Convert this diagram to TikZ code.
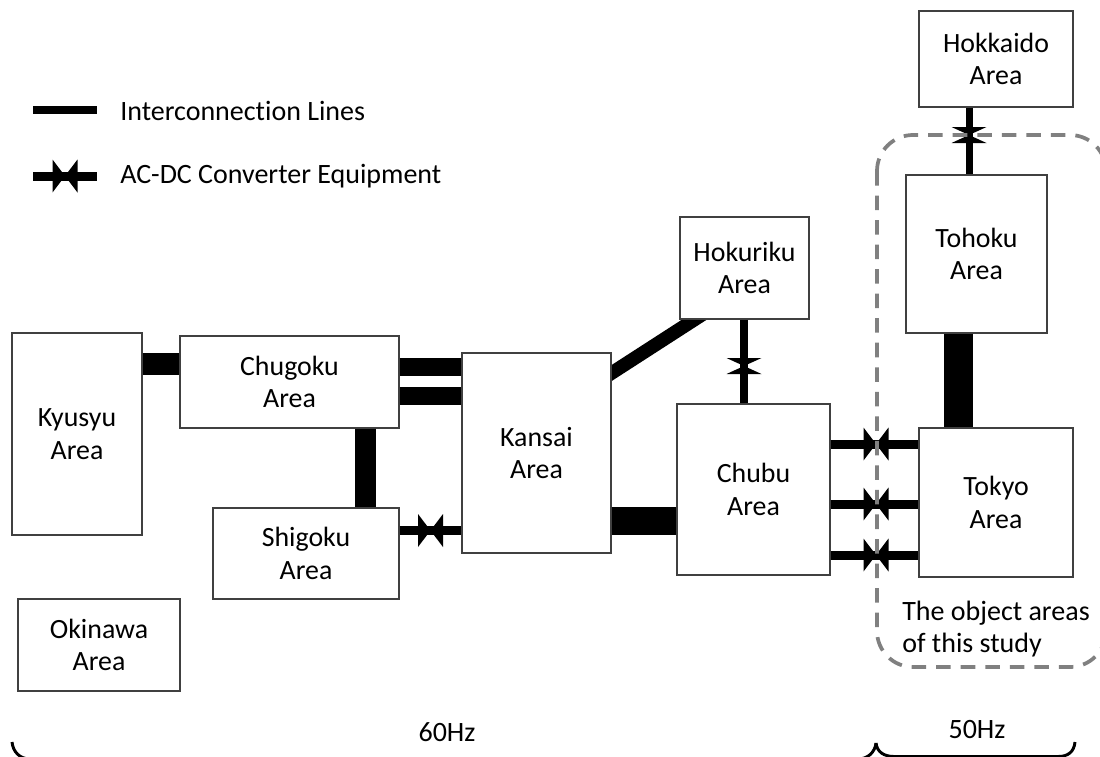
\documentclass[tikz,border=0pt]{standalone}
\usepackage{fontspec}
\setmainfont{Carlito}[Ligatures=NoCommon]
\usetikzlibrary{calc,backgrounds}

\tikzset{
  areabox/.style 2 args={draw=black!75, fill=white, line width=1pt, align=center,
    inner sep=0pt, font=\fontsize{20.9}{24.4}\selectfont,
    minimum width=#1*0.75pt, minimum height=#2*0.75pt},
  tielink/.style={line width=#1*0.75pt, draw=black},
  capt/.style={font=\fontsize{21}{24.4}\selectfont, inner sep=0pt, align=left},
  studyzone/.style={draw=black!50, line width=2.8pt, dash pattern=on 10.9pt off 7.5pt, rounded corners=27pt},
  bracket/.style={draw=black, line width=2.2pt}
}
% bow-tie mark of the converters
\newcommand{\hconv}[2]{\fill (#1-12.5,#2-16.5) -- (#1,#2) -- (#1+12.5,#2-16.5) -- (#1+12.5,#2+16.5) -- (#1,#2) -- (#1-12.5,#2+16.5) -- cycle;}
\newcommand{\vconv}[2]{\fill (#1-17.5,#2-8) -- (#1,#2) -- (#1-17.5,#2+8) -- (#1+17.5,#2+8) -- (#1,#2) -- (#1+17.5,#2-8) -- cycle;}

\begin{document}
\begin{tikzpicture}[x=0.75pt,y=-0.75pt]
  \useasboundingbox (0,0) rectangle (1100,757);

  % areas, placed first so that the lines can refer to them
  \node[areabox={154}{96}] (hokkaido) at (996,59) {Hokkaido\\Area};
  \node[areabox={141}{158}] (tohoku) at (976.5,254) {Tohoku\\Area};
  \node[areabox={129}{102}] (hokuriku) at (744.5,268) {Hokuriku\\Area};
  \node[areabox={130}{202}] (kyusyu) at (77,434) {Kyusyu\\Area};
  \node[areabox={219}{92}] (chugoku) at (289.5,382) {Chugoku\\Area};
  \node[areabox={149}{200}] (kansai) at (536.5,453) {Kansai\\Area};
  \node[areabox={153}{171}] (chubu) at (753.5,489.5) {Chubu\\Area};
  \node[areabox={154}{149}] (tokyo) at (996,502.5) {Tokyo\\Area};
  \node[areabox={186}{91}] (shigoku) at (306,553.5) {Shigoku\\Area};
  \node[areabox={162}{92}] (okinawa) at (99,645) {Okinawa\\Area};

  % interconnection lines
  \draw[tielink=22] (kyusyu.east |- 0,364) -- (chugoku.west |- 0,364);
  \draw[tielink=18] (chugoku.east |- 0,367) -- (kansai.west |- 0,367);
  \draw[tielink=18] (chugoku.east |- 0,396) -- (kansai.west |- 0,396);
  \draw[tielink=21] (chugoku.south -| 365.5,0) -- (shigoku.north -| 365.5,0);
  \draw[tielink=9] (shigoku.east |- 0,530.5) -- (kansai.west |- 0,530.5);
  \draw[tielink=28] (kansai.east |- 0,521) -- (chubu.west |- 0,521);
  \begin{scope}[on background layer]
    % runs on under both boxes
    \draw[tielink=13.5, shorten <=-10pt, shorten >=-10pt] (kansai.east |- 0,373) -- ($(hokuriku.south west)+(15,0)$);
  \end{scope}
  \draw[tielink=8] (hokuriku.south -| 744,0) -- (chubu.north -| 744,0);
  \draw[tielink=9] (chubu.east |- 0,444) -- (tokyo.west |- 0,444);
  \draw[tielink=9] (chubu.east |- 0,504) -- (tokyo.west |- 0,504);
  \draw[tielink=9] (chubu.east |- 0,555) -- (tokyo.west |- 0,555);
  \draw[tielink=29] (tohoku.south -| 958.5,0) -- (tokyo.north -| 958.5,0);
  \draw[tielink=7] (hokkaido.south -| 969,0) -- (tohoku.north -| 969,0);

  % converters
  \hconv{430.5}{530.5}
  \hconv{876}{444}
  \hconv{876}{504}
  \hconv{876}{555}
  \vconv{744}{366}
  \vconv{969}{135}

  % legend
  \coordinate (keyA) at (33,110);
  \coordinate (keyB) at (97,110);
  \coordinate (keyC) at (33,176);
  \coordinate (keyD) at (97,176);
  \draw[tielink=8] (keyA) -- (keyB);
  \draw[tielink=9] (keyC) -- (keyD);
  \hconv{65}{176}
  \node[capt, anchor=west] (keytie) at (120,111) {Interconnection Lines};
  \node[capt, anchor=west] (keyconv) at (120,176) {AC-DC Converter Equipment};

  % study region and frequency brackets
  \draw[studyzone] (877,135) rectangle (1106,667);
  \node[capt] (object) at (996,629) {The object areas\\of this study};
  \node[capt] (hz60) at (447,732) {60Hz};
  \node[capt] (hz50) at (977,730) {50Hz};
  \draw[bracket] (12,742) .. controls (13,752) and (20,759) .. (30,759) -- (858,759)
    .. controls (868,759) and (875,752) .. (876,743);
  \draw[bracket] (876,743) .. controls (877,752) and (884,756.5) .. (894,756.5) -- (1058,756.5)
    .. controls (1068,756.5) and (1074,752) .. (1075,742);
\end{tikzpicture}
\end{document}
